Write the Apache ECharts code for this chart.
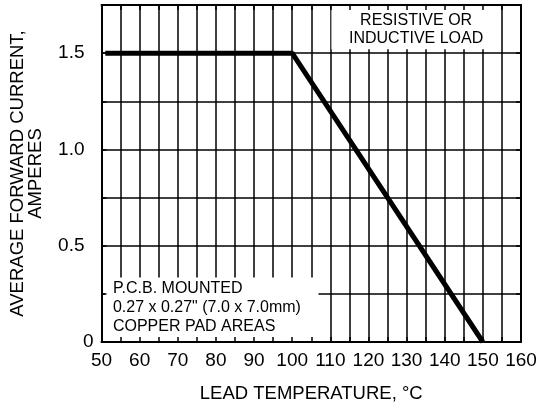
<!DOCTYPE html>
<html><head><meta charset="utf-8">
<script src="https://cdn.jsdelivr.net/npm/echarts@6/dist/echarts.min.js"></script>
<style>html,body{margin:0;padding:0;background:#fff}#c{width:541px;height:408px}</style>
</head><body><div id="c"></div>
<script>
// Data
const curveX = [51, 100, 150];
const curveY = [1.5, 1.5, 0];
const xMin = 50, xMax = 160, xStep = 5, xLabelStep = 10;
const yMin = 0, yMax = 1.75, yStep = 0.25, yLabelStep = 0.5;
const noteLoad = ['RESISTIVE OR', 'INDUCTIVE LOAD'];
const notePcb = ['P.C.B. MOUNTED', '0.27 x 0.27" (7.0 x 7.0mm)', 'COPPER PAD AREAS'];
const noteLoadBox = [[110.3, 1.52], [154.7, 1.75]];
const notePcbBox = [[50.9, 0], [106.9, 0.335]];
const xName = 'LEAD TEMPERATURE, °C';
const yName = 'AVERAGE FORWARD CURRENT,\nAMPERES';

const FONT = 'Liberation Sans, Arial, Helvetica, sans-serif';
const chart = echarts.init(document.getElementById('c'), null, {renderer: 'canvas'});
const txt = {color: '#000', fontFamily: FONT};
const base = {type: 'value'};
const GRIDW = 1.5;

const xAxes = [
  Object.assign({}, base, {min: xMin, max: xMax, interval: xStep, position: 'bottom', z: 0,
    axisLine: {show: false}, axisTick: {show: false},
    splitLine: {show: true, lineStyle: {color: '#000', width: GRIDW}},
    axisLabel: Object.assign({fontSize: 19, margin: 9, formatter: v => (v % xLabelStep === 0 ? String(v) : '')}, txt),
    name: xName, nameLocation: 'middle', nameGap: 42,
    nameTextStyle: Object.assign({fontSize: 18.5}, txt)}),
  Object.assign({}, base, {min: xMin, max: xMax, interval: xStep, position: 'bottom', z: 5,
    axisLine: {show: true, onZero: false, lineStyle: {color: '#000', width: 2}},
    axisTick: {show: true, inside: true, length: 5, lineStyle: {color: '#000', width: GRIDW}},
    splitLine: {show: false}, axisLabel: {show: false}}),
  Object.assign({}, base, {min: xMin, max: xMax, interval: xStep, position: 'top', z: 5,
    axisLine: {show: true, onZero: false, lineStyle: {color: '#000', width: 2}},
    axisTick: {show: true, inside: true, length: 5, lineStyle: {color: '#000', width: GRIDW}},
    splitLine: {show: false}, axisLabel: {show: false}})
];
const yAxes = [
  Object.assign({}, base, {min: yMin, max: yMax, interval: yStep, position: 'left', z: 0,
    axisLine: {show: false}, axisTick: {show: false},
    splitLine: {show: true, lineStyle: {color: '#000', width: GRIDW}},
    axisLabel: Object.assign({fontSize: 19, margin: 17,
      formatter: v => (v > 0 && Math.abs(v / yLabelStep - Math.round(v / yLabelStep)) < 1e-6 ? v.toFixed(1) : '')}, txt),
    name: yName, nameLocation: 'middle', nameGap: 57, nameRotate: 90,
    nameTextStyle: Object.assign({fontSize: 18.5, lineHeight: 18, align: 'center'}, txt)}),
  Object.assign({}, base, {min: yMin, max: yMax, interval: yStep, position: 'left', z: 5,
    axisLine: {show: true, onZero: false, lineStyle: {color: '#000', width: 2}},
    axisTick: {show: true, inside: true, length: 5, lineStyle: {color: '#000', width: GRIDW}},
    splitLine: {show: false},
    axisLabel: Object.assign({fontSize: 19, margin: 8, formatter: v => (v === 0 ? '0' : '')}, txt)}),
  Object.assign({}, base, {min: yMin, max: yMax, interval: yStep, position: 'right', z: 5,
    axisLine: {show: true, onZero: false, lineStyle: {color: '#000', width: 2}},
    axisTick: {show: true, inside: true, length: 5, lineStyle: {color: '#000', width: GRIDW}},
    splitLine: {show: false}, axisLabel: {show: false}})
];

chart.setOption({
  animation: false,
  backgroundColor: '#fff',
  grid: {left: 101, right: 20, top: 5, bottom: 63, containLabel: false},
  xAxis: xAxes,
  yAxis: yAxes,
  series: [{
    type: 'line', xAxisIndex: 0, yAxisIndex: 0, z: 3,
    data: curveX.map((x, i) => [x, curveY[i]]),
    symbol: 'none', lineStyle: {color: '#000', width: 5},
    markArea: {
      silent: true,
      data: [
        [{coord: noteLoadBox[0], itemStyle: {color: '#fff', opacity: 1},
          label: {show: true, position: 'inside', offset: [0, 2], formatter: noteLoad.join('\n'),
            fontSize: 16, lineHeight: 18, color: '#000', fontFamily: FONT, align: 'center'}},
         {coord: noteLoadBox[1]}],
        [{coord: notePcbBox[0], itemStyle: {color: '#fff', opacity: 1},
          label: {show: true, position: 'insideLeft', distance: 8, offset: [0, -2], formatter: notePcb.join('\n'),
            fontSize: 16, lineHeight: 19, color: '#000', fontFamily: FONT, align: 'left'}},
         {coord: notePcbBox[1]}]
      ]
    }
  }]
});
</script></body></html>
